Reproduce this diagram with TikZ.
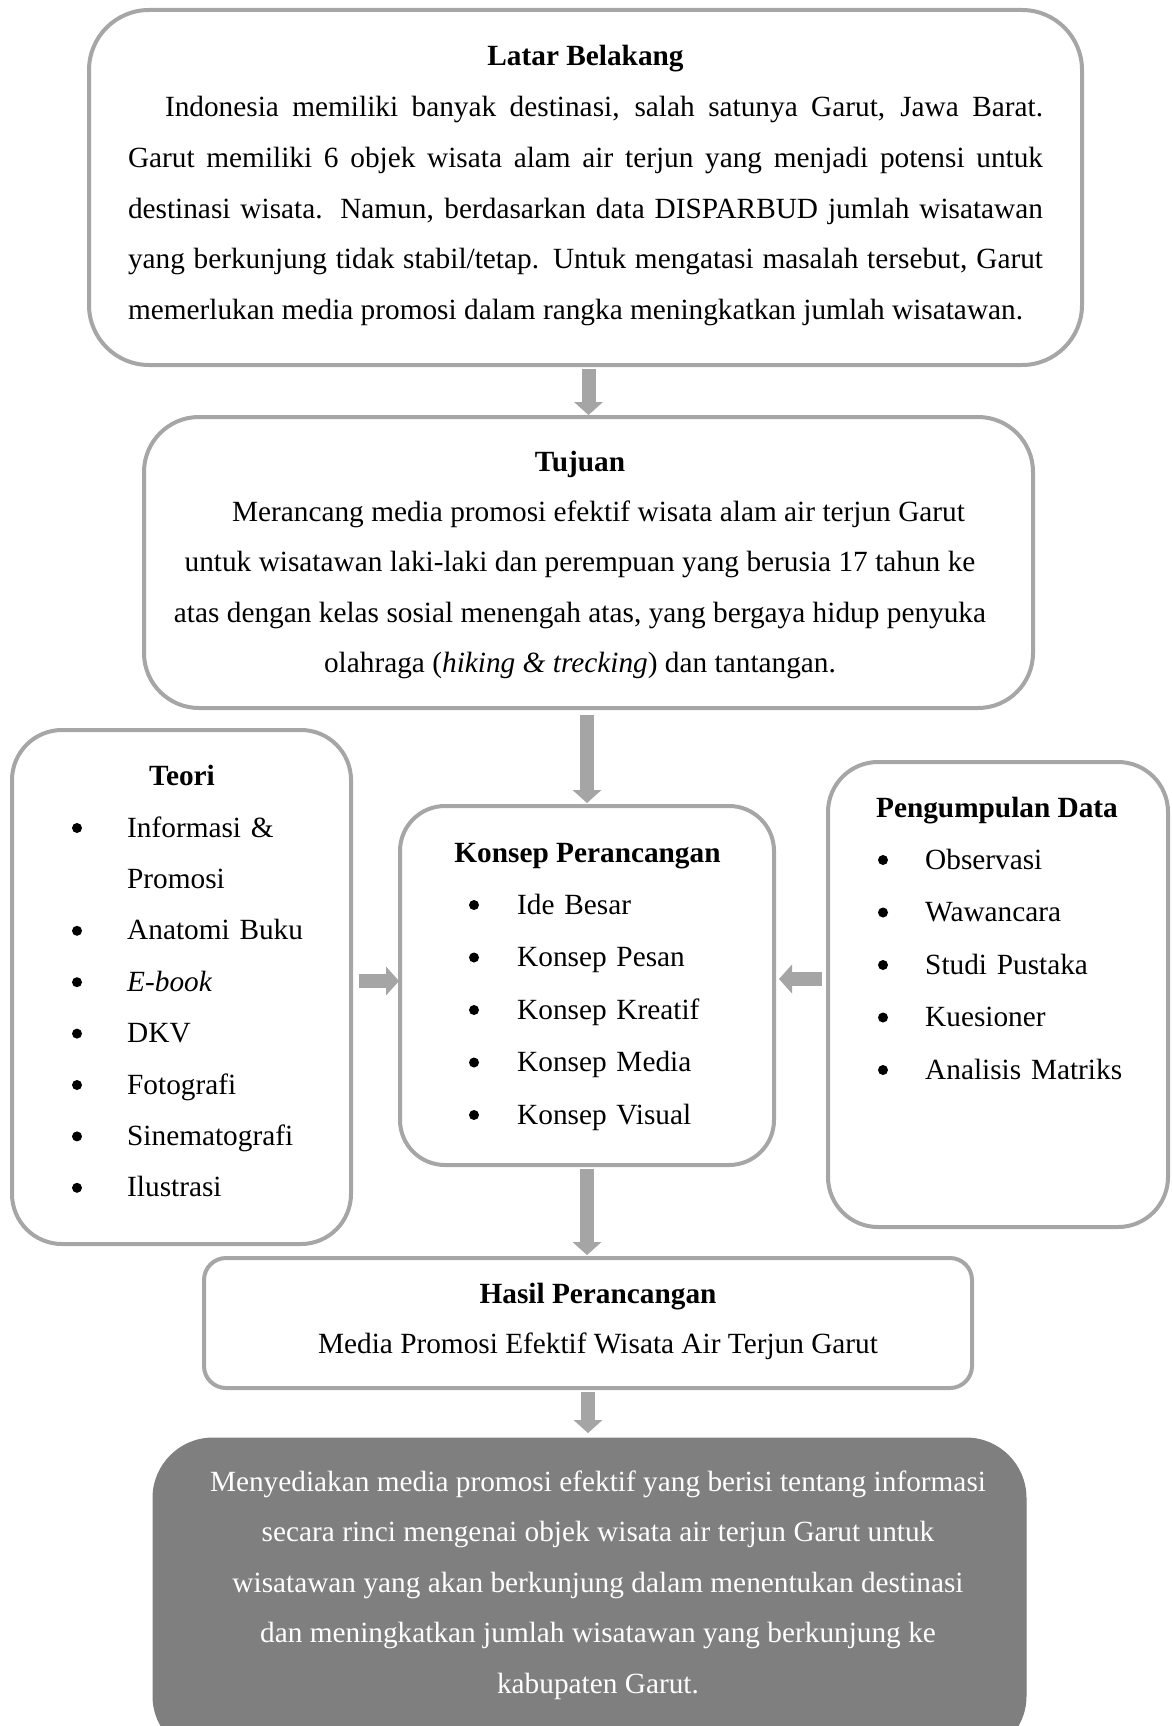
\documentclass[tikz,border=0pt]{standalone}
\usepackage{fontspec}
\setmainfont{Liberation Serif}
\usetikzlibrary{arrows.meta,calc}
\definecolor{boxline}{RGB}{166,166,166}
\definecolor{arrowfill}{RGB}{165,165,165}
\definecolor{darkfill}{RGB}{127,127,127}
\newcommand\dgfont[1]{\fontsize{29.3}{#1}\selectfont}
\tolerance=10000
\hbadness=10000
\begin{document}
\begin{tikzpicture}[x=1pt,y=-1pt,
  box/.style={draw=boxline, line width=4pt, fill=white, rectangle, inner sep=0pt, outer sep=0pt},
  darkbox/.style={draw=darkfill, fill=darkfill, line width=1pt, rectangle, inner sep=0pt, outer sep=0pt},
  title/.style={inner sep=0pt, anchor=base, font=\dgfont{50.6}\bfseries},
  body/.style={inner sep=0pt, anchor=base, font=\dgfont{50.6}},
  listtxt/.style={inner sep=0pt, anchor=base west, align=left, font=\dgfont{#1}},
  bulletdot/.style={fill=black},
  blockarrow/.style={draw=arrowfill, line width=14pt, -{Triangle[length=13pt,width=29pt,line width=0pt]}}
]
\useasboundingbox (0,0) rectangle (1171,1726);
\clip (0,0) rectangle (1171,1726);

% boxes
\node[box, rounded corners=60pt, minimum width=993pt, minimum height=355pt] (lb) at (585.5,187.5) {};
\node[box, rounded corners=55pt, minimum width=889pt, minimum height=291pt] (tj) at (588.5,562.5) {};
\node[box, rounded corners=50pt, minimum width=339pt, minimum height=514pt] (te) at (181.5,987) {};
\node[box, rounded corners=45pt, minimum width=374pt, minimum height=359pt] (kp) at (587,985.5) {};
\node[box, rounded corners=50pt, minimum width=340pt, minimum height=465pt] (pd) at (998,994.5) {};
\node[box, rounded corners=22pt, minimum width=768pt, minimum height=130pt] (hp) at (588,1323) {};
\node[darkbox, rounded corners=60pt, minimum width=873pt, minimum height=318pt] (fb) at (589.5,1597) {};

% Latar Belakang
\node[title] (lbt) at ($(lb.north)+(0,56)$) {Latar Belakang};
\node[body, text width=915pt, align=justify] (lbb) at ($(lb.north)+(0,107)$) {\noindent\hspace*{37pt}Indonesia memiliki banyak destinasi, salah satunya Garut, Jawa Barat.\linebreak
Garut memiliki 6 objek wisata alam air terjun yang menjadi potensi untuk\linebreak
destinasi wisata. Namun, berdasarkan data DISPARBUD jumlah wisatawan\linebreak
yang berkunjung tidak stabil/tetap. Untuk mengatasi masalah tersebut, Garut\linebreak
memerlukan media promosi dalam rangka meningkatkan jumlah wisatawan.};

% Tujuan
\node[title] (tjt) at ($(tj.north)+(-8.5,54)$) {Tujuan};
\node[body, text width=880pt, align=center] (tjb) at ($(tj.north)+(-8.5,104)$) {\spaceskip=7.4pt plus 0pt minus 0pt\hspace*{37pt}Merancang media promosi efektif wisata alam air terjun Garut\\
untuk wisatawan laki-laki dan perempuan yang berusia 17 tahun ke\\
atas dengan kelas sosial menengah atas, yang bergaya hidup penyuka\\
olahraga (\textit{hiking \& trecking}) dan tantangan.};

% Teori
\node[title] (tet) at ($(te.north)+(0.5,55)$) {Teori};
\node[listtxt=51.4, text width=220pt] (tel) at ($(te.north west)+(115,107)$) {Informasi \&\\
Promosi\\
Anatomi Buku\\
\textit{E-book}\\
DKV\\
Fotografi\\
Sinematografi\\
Ilustrasi};
\foreach \k in {0,2,3,4,5,6,7}
  \fill[bulletdot] ($(tel.base west)+(-50,{-9+51.4*\k})$) circle (5pt);

% Konsep Perancangan
\node[title] (kpt) at ($(kp.north)+(0.5,56)$) {Konsep Perancangan};
\node[listtxt=52.5, text width=240pt] (kpl) at ($(kp.north west)+(117,108)$) {Ide Besar\\
Konsep Pesan\\
Konsep Kreatif\\
Konsep Media\\
Konsep Visual};
\foreach \k in {0,...,4}
  \fill[bulletdot] ($(kpl.base west)+(-43,{-9+52.5*\k})$) circle (5pt);

% Pengumpulan Data
\node[title] (pdt) at ($(pd.north)+(-1,55)$) {Pengumpulan Data};
\node[listtxt=52.5, text width=235pt] (pdl) at ($(pd.north west)+(97,107)$) {Observasi\\
Wawancara\\
Studi Pustaka\\
Kuesioner\\
Analisis Matriks};
\foreach \k in {0,...,4}
  \fill[bulletdot] ($(pdl.base west)+(-42,{-9+52.5*\k})$) circle (5pt);

% Hasil Perancangan
\node[title] (hpt) at ($(hp.north)+(10,45)$) {Hasil Perancangan};
\node[body] (hpb) at ($(hp.north)+(10,95)$) {Media Promosi Efektif Wisata Air Terjun Garut};

% final box text
\node[body, text=white, text width=860pt, align=center, font=\dgfont{50.5}] (fbt) at ($(fb.north)+(8.5,53)$) {\spaceskip=7.4pt plus 0pt minus 0pt Menyediakan media promosi efektif yang berisi tentang informasi\\
secara rinci mengenai objek wisata air terjun Garut untuk\\
wisatawan yang akan berkunjung dalam menentukan destinasi\\
dan meningkatkan jumlah wisatawan yang berkunjung ke\\
kabupaten Garut.};

% arrows
\draw[blockarrow, shorten <=4pt, shorten >=2pt] (lb.south -| tj.north) -- (tj.north);
\draw[blockarrow, shorten <=7pt, shorten >=3pt] (tj.south -| kp.north) -- (kp.north);
\draw[blockarrow, shorten <=4pt, shorten >=3pt] (kp.south) -- (kp.south |- hp.north);
\draw[blockarrow, shorten <=4pt, shorten >=5pt] (hp.south) -- (hp.south |- fb.north);
\draw[blockarrow, shorten <=8pt, shorten >=1pt] ([yshift=6pt]te.east) -- ([yshift=6pt]te.east -| kp.west);
\draw[blockarrow, shorten <=6pt, shorten >=5pt] ([yshift=15.5pt]pd.west) -- ([yshift=15.5pt]pd.west -| kp.east);
\end{tikzpicture}
\end{document}
